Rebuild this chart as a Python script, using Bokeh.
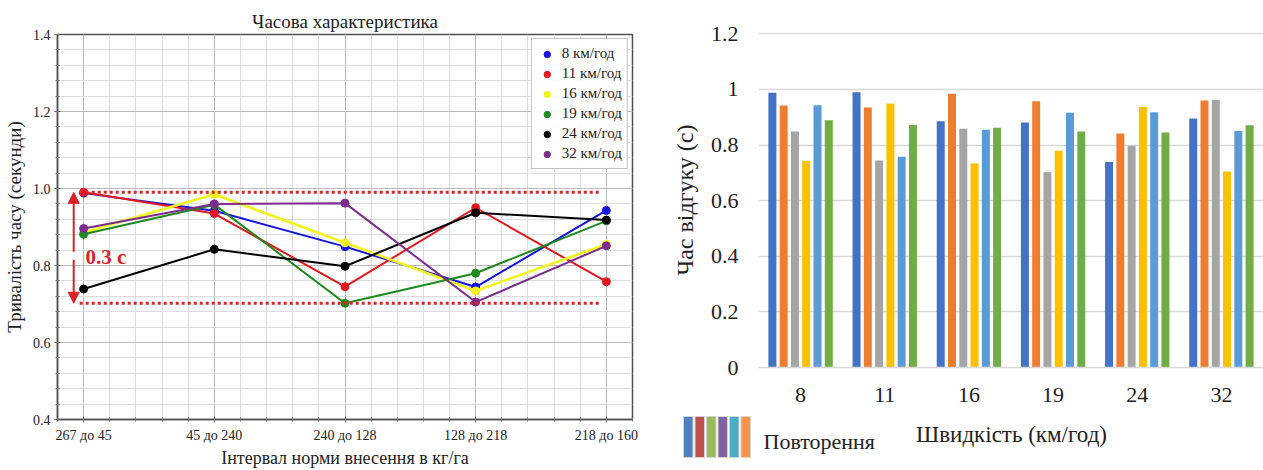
from bokeh.plotting import figure
from bokeh.models import (Range1d, FixedTicker, Legend, LegendItem, Arrow, NormalHead,
                          Label, ColumnDataSource, PrintfTickFormatter, FactorRange)
from bokeh.layouts import row, column
from bokeh.transform import dodge
from bokeh.core.properties import value
from bokeh.embed import file_html
from bokeh.resources import INLINE

# ---------------- data ----------------
intervals = ["267 до 45", "45 до 240", "240 до 128", "128 до 218", "218 до 160"]
speeds = ["8", "11", "16", "19", "24", "32"]
speed_labels = ["8 км/год", "11 км/год", "16 км/год", "19 км/год", "24 км/год", "32 км/год"]

t8 = [0.988, 0.942, 0.849, 0.744, 0.943]
t11 = [0.990, 0.935, 0.745, 0.950, 0.758]
t16 = [0.886, 0.985, 0.859, 0.734, 0.855]
t19 = [0.881, 0.958, 0.702, 0.780, 0.916]
t24 = [0.739, 0.842, 0.798, 0.937, 0.918]
t32 = [0.896, 0.960, 0.962, 0.705, 0.851]
t_mean = [0.889, 0.872, 0.862, 0.849, 0.845, 0.871]

spread_text = "0.3 с"
title_left = "Часова характеристика"
xlabel_left = "Інтервал норми внесення в кг/га"
ylabel_left = "Тривалість часу (секунди)"
xlabel_right = "Швидкість (км/год)"
ylabel_right = "Час відгуку (с)"
legend_right = "Повторення"

SERIF = "'Liberation Serif', 'Times New Roman', serif"
RED = "#d8232a"

series = [t8, t11, t16, t19, t24, t32]
line_colors = ["#1414dc", "#e3161d", "#f4f41e", "#1e8a1e", "#000000", "#7b2c8c"]

# ---------------- left chart ----------------
p1 = figure(width=648, height=470, x_range=Range1d(-0.2, 4.2), y_range=Range1d(0.4, 1.4),
            output_backend="svg", toolbar_location=None, title=title_left,
            min_border_left=57, min_border_right=16, min_border_top=34,
            min_border_bottom=45)
p1.title.align = "center"
p1.title.text_font = SERIF
p1.title.text_font_size = "19px"
p1.title.text_font_style = "normal"
p1.title.text_color = "#222222"
p1.title.standoff = 5
p1.title.offset = -10

p1.xaxis.ticker = FixedTicker(ticks=list(range(len(intervals))),
                              minor_ticks=[round(-0.2 + 0.2 * i, 2) for i in range(23)])
p1.xaxis.major_label_overrides = {i: lab for i, lab in enumerate(intervals)}
p1.yaxis.ticker = FixedTicker(ticks=[round(0.4 + 0.2 * i, 2) for i in range(6)],
                              minor_ticks=[round(0.4 + 0.04 * i, 2) for i in range(26)])
p1.yaxis.formatter = PrintfTickFormatter(format="%.1f")

for ax in (p1.xaxis, p1.yaxis):
    ax.axis_line_color = "#505050"
    ax.axis_line_width = 1.5
    ax.major_tick_line_color = "#505050"
    ax.minor_tick_line_color = "#707070"
    ax.major_tick_in = 3
    ax.major_tick_out = 3
    ax.minor_tick_in = 2
    ax.minor_tick_out = 2
    ax.major_label_text_font = SERIF
    ax.major_label_text_font_size = "14px"
    ax.major_label_text_color = "#222222"
    ax.axis_label_text_font = SERIF
    ax.axis_label_text_font_style = "normal"
    ax.axis_label_text_color = "#222222"

p1.xaxis.axis_label = xlabel_left
p1.xaxis.axis_label_text_font_size = "18px"
p1.xaxis.major_label_standoff = 5
p1.xaxis.axis_label_standoff = 2
p1.yaxis.axis_label = ylabel_left
p1.yaxis.axis_label_text_font_size = "19px"
p1.yaxis.major_label_standoff = 4
p1.yaxis.axis_label_standoff = 5

p1.outline_line_color = "#505050"
p1.outline_line_width = 1.5
for g in (p1.xgrid, p1.ygrid):
    g.grid_line_color = "#b9b9b9"
    g.grid_line_width = 1
    g.minor_grid_line_color = "#dddddd"
    g.minor_grid_line_width = 1

x_idx = list(range(len(intervals)))
items = []
for name, vals, col in zip(speed_labels, series, line_colors):
    p1.line(x_idx, vals, line_color=col, line_width=2.6 if col == "#f4f41e" else 2)
    r = p1.scatter(x_idx, vals, size=8, fill_color=col, line_color=col)
    items.append(LegendItem(label=name, renderers=[r]))

all_vals = [v for s in series for v in s]
band_top = max(all_vals)
band_bottom = min(all_vals)
p1.segment(x0=[-0.03, -0.03], x1=[3.95, 3.95], y0=[band_top, band_bottom],
           y1=[band_top, band_bottom], line_color=RED, line_width=3, line_dash="3 3")

ax_x = -0.076
p1.add_layout(Arrow(x_start=ax_x, y_start=0.836, x_end=ax_x, y_end=band_top,
                    end=NormalHead(size=11, fill_color=RED, line_color=RED),
                    line_color=RED, line_width=2))
p1.add_layout(Arrow(x_start=ax_x, y_start=0.815, x_end=ax_x, y_end=band_bottom,
                    end=NormalHead(size=11, fill_color=RED, line_color=RED),
                    line_color=RED, line_width=2))
p1.add_layout(Label(x=0.015, y=0.822, text=spread_text, text_font=SERIF,
                    text_font_style="bold", text_font_size="21px", text_color=RED,
                    text_baseline="middle"))

legend = Legend(items=items, location="top_right", label_text_font=SERIF,
                label_text_font_size="15px", label_text_color="#222222",
                border_line_color="#8a8a8a", border_line_width=1.5,
                background_fill_alpha=0.92, glyph_width=20, glyph_height=16,
                label_height=19, spacing=1, padding=5, margin=4)
p1.add_layout(legend)

# ---------------- right chart ----------------
bar_colors = ["#4472c4", "#ed7d31", "#a5a5a5", "#ffc000", "#5b9bd5", "#70ad47"]
src = ColumnDataSource(dict(
    speed=speeds,
    s0=[s[0] for s in series],
    s1=[s[1] for s in series],
    s2=[s[2] for s in series],
    s3=[s[3] for s in series],
    s4=[s[4] for s in series],
    s5=t_mean,
))

W2 = 615
p2 = figure(width=W2, height=410, x_range=FactorRange(*speeds), y_range=Range1d(0, 1.205),
            output_backend="svg", toolbar_location=None,
            min_border_left=110, min_border_right=0, min_border_top=32,
            min_border_bottom=43)
slot = 0.134
for j in range(6):
    p2.vbar(x=dodge("speed", (j - 2.5) * slot, range=p2.x_range), top=f"s{j}",
            width=0.095, fill_color=bar_colors[j], line_color=None, source=src)

p2.yaxis.ticker = FixedTicker(ticks=[0, 0.2, 0.4, 0.6, 0.8, 1.0, 1.2])
p2.xgrid.grid_line_color = None
p2.ygrid.grid_line_color = "#d9d9d9"
p2.ygrid.grid_line_width = 1.5
p2.outline_line_color = None
for ax in (p2.xaxis, p2.yaxis):
    ax.major_tick_line_color = None
    ax.minor_tick_line_color = None
    ax.major_label_text_font = SERIF
    ax.major_label_text_font_size = "22px"
    ax.major_label_text_color = "#222222"
    ax.axis_label_text_font = SERIF
    ax.axis_label_text_font_style = "normal"
    ax.axis_label_text_color = "#222222"
p2.yaxis.axis_line_color = None
p2.yaxis.major_label_standoff = 14
p2.yaxis.axis_label = ylabel_right
p2.yaxis.axis_label_text_font_size = "24px"
p2.yaxis.axis_label_standoff = 10
p2.xaxis.axis_line_color = "#d9d9d9"
p2.xaxis.axis_line_width = 1.5
p2.xaxis.major_label_standoff = 14

# bottom strip of the right chart: repetition legend and the x-axis title
p3 = figure(width=W2, height=60, x_range=Range1d(0, W2), y_range=Range1d(0, 60),
            output_backend="svg", toolbar_location=None, x_axis_location=None,
            y_axis_location=None, min_border=0)
p3.outline_line_color = None
p3.xgrid.grid_line_color = None
p3.ygrid.grid_line_color = None
legend_colors = ["#4f81bd", "#c0504d", "#9bbb59", "#8064a2", "#4bacc6", "#f79646"]
lefts = [35 + 11.5 * i for i in range(len(legend_colors))]
p3.quad(left=lefts, right=[l + 9.5 for l in lefts], top=54, bottom=13,
        fill_color=legend_colors, line_color="#d4d4d4", line_width=1)
p3.text(x=[115], y=[29], text=[legend_right], text_font=value(SERIF),
        text_font_size="22px", text_color="#222222", text_baseline="middle")
p3.text(x=[363], y=[36], text=[xlabel_right], text_font=value(SERIF),
        text_font_size="23px", text_color="#222222", text_baseline="middle",
        text_align="center")

layout = row(p1, column(p2, row(p3)))
open("out.html", "w").write(file_html(layout, INLINE))
